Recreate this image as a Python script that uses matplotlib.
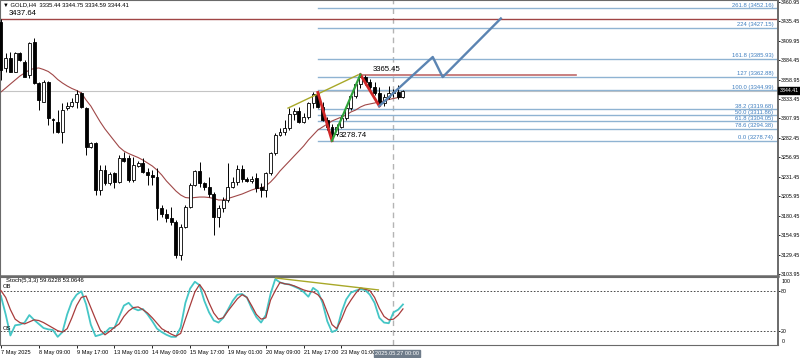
import numpy as np
import matplotlib
matplotlib.use('Agg')
import matplotlib.pyplot as plt
import matplotlib.transforms as mtransforms

plt.rcParams['font.family'] = ['Liberation Sans', 'DejaVu Sans']

# GOLD H4 candles (bar 0 = 7 May 2025 01:00)
opens = [3434.0, 3373.7, 3386.8, 3369.2, 3393.3, 3382.3, 3364.9, 3408.5, 3354.0, 3329.9,
         3356.1, 3307.2, 3303.7, 3290.5, 3321.2, 3324.6, 3329.9, 3340.9, 3322.0, 3270.9,
         3275.3, 3214.1, 3240.3, 3222.9, 3236.0, 3225.0, 3256.5, 3255.7, 3227.2, 3246.0,
         3249.1, 3238.1, 3233.8, 3231.5, 3190.5, 3182.7, 3177.4, 3171.8, 3128.9, 3166.0,
         3191.4, 3220.7, 3239.0, 3222.9, 3218.4, 3208.9, 3179.1, 3190.1, 3201.0, 3218.0,
         3225.0, 3241.2, 3228.5, 3226.3, 3229.5, 3218.4, 3214.1, 3236.0, 3262.2, 3286.2,
         3290.8, 3295.0, 3314.0, 3318.0, 3303.7, 3309.8, 3328.2, 3340.0, 3322.9, 3305.9,
         3296.7, 3287.5, 3296.7, 3308.5, 3321.6, 3337.3, 3353.1, 3362.2, 3355.7, 3349.1,
         3341.3, 3328.2, 3336.0, 3341.3, 3342.6, 3335.44]
highs = [3437.64, 3393.3, 3395.4, 3395.4, 3395.0, 3384.5, 3408.5, 3413.0, 3356.1, 3358.3,
         3357.0, 3308.1, 3319.0, 3327.8, 3329.9, 3334.3, 3345.2, 3343.0, 3323.3, 3277.4,
         3277.4, 3246.9, 3246.9, 3238.1, 3238.1, 3260.0, 3264.3, 3260.0, 3257.8, 3252.1,
         3255.7, 3242.6, 3240.3, 3242.6, 3194.4, 3189.2, 3191.8, 3174.8, 3169.5, 3194.4,
         3222.9, 3240.3, 3251.2, 3225.0, 3230.8, 3211.9, 3194.4, 3204.5, 3249.1, 3231.5,
         3246.9, 3246.9, 3231.5, 3232.0, 3236.0, 3222.9, 3238.1, 3264.3, 3288.4, 3295.0,
         3305.9, 3321.2, 3321.2, 3323.3, 3315.0, 3329.9, 3342.6, 3342.0, 3329.0, 3309.8,
         3300.6, 3300.6, 3312.4, 3324.2, 3340.0, 3355.7, 3365.45, 3364.5, 3359.6, 3355.7,
         3349.1, 3340.0, 3350.4, 3346.5, 3351.8, 3344.75]
lows = [3358.0, 3369.2, 3368.4, 3368.4, 3383.2, 3362.0, 3360.5, 3353.5, 3319.0, 3329.5,
        3299.3, 3288.4, 3288.4, 3275.3, 3319.0, 3323.3, 3322.0, 3321.2, 3260.0, 3268.8,
        3207.6, 3207.6, 3220.7, 3220.7, 3216.3, 3222.9, 3251.2, 3225.0, 3225.0, 3244.6,
        3236.0, 3220.7, 3220.7, 3174.8, 3179.1, 3172.2, 3168.2, 3124.6, 3122.3, 3163.9,
        3190.1, 3219.4, 3218.4, 3214.1, 3205.3, 3155.1, 3166.0, 3185.6, 3199.0, 3216.3,
        3220.7, 3225.0, 3225.0, 3223.0, 3211.9, 3204.5, 3205.3, 3233.8, 3260.0, 3284.9,
        3286.2, 3292.8, 3305.9, 3301.5, 3302.0, 3307.2, 3321.6, 3321.6, 3304.6, 3292.8,
        3278.74, 3284.9, 3295.4, 3305.9, 3319.0, 3334.7, 3347.8, 3351.8, 3345.2, 3338.6,
        3324.2, 3324.2, 3333.4, 3336.0, 3333.4, 3334.59]
closes = [3372.0, 3386.8, 3369.2, 3393.3, 3384.5, 3362.6, 3406.4, 3354.0, 3332.1, 3356.1,
          3308.1, 3305.9, 3290.5, 3319.0, 3324.6, 3329.9, 3339.6, 3323.3, 3270.9, 3275.3,
          3214.1, 3240.3, 3222.9, 3234.7, 3225.0, 3255.7, 3252.1, 3227.2, 3246.9, 3249.1,
          3238.1, 3233.8, 3231.5, 3190.5, 3182.7, 3177.4, 3171.8, 3128.9, 3166.0, 3191.4,
          3220.7, 3239.0, 3222.9, 3218.4, 3208.9, 3179.1, 3190.1, 3201.0, 3218.0, 3225.0,
          3241.2, 3228.5, 3226.3, 3228.5, 3216.3, 3214.1, 3236.0, 3262.2, 3286.2, 3290.8,
          3295.0, 3314.0, 3318.0, 3303.7, 3309.8, 3328.2, 3340.0, 3322.9, 3305.9, 3296.7,
          3287.5, 3296.7, 3308.5, 3321.6, 3337.3, 3353.1, 3362.2, 3355.7, 3349.1, 3341.3,
          3328.2, 3336.0, 3341.3, 3342.6, 3335.4, 3344.41]

# moving average as drawn on the chart
ma = [3342.6, 3347.8, 3353.1, 3358.3, 3363.5, 3367.5, 3371.4, 3373.4, 3374.1, 3372.1,
      3369.5, 3364.9, 3359.0, 3354.4, 3350.5, 3347.2, 3344.6, 3341.3, 3332.1, 3324.2,
      3313.7, 3303.3, 3294.1, 3286.2, 3278.3, 3270.5, 3265.2, 3261.9, 3259.3, 3256.7,
      3253.4, 3249.5, 3245.6, 3240.3, 3233.8, 3225.9, 3219.4, 3212.8, 3207.6, 3204.3,
      3203.6, 3204.3, 3204.9, 3204.9, 3204.3, 3203.0, 3201.0, 3201.0, 3203.0, 3204.9,
      3206.9, 3208.9, 3211.5, 3214.1, 3216.1, 3216.7, 3219.4, 3224.6, 3231.2, 3239.0,
      3245.6, 3252.1, 3258.7, 3265.2, 3271.8, 3279.6, 3286.2, 3292.8, 3296.7, 3300.6,
      3304.6, 3307.2, 3309.8, 3312.4, 3316.4, 3319.0, 3322.9, 3325.6, 3326.9, 3328.2,
      3329.5, 3330.8, 3332.8, 3334.1, 3335.4, 3336.0]

# Stochastic(5,3,3)
stoch_k = [72, 45, 14, 29, 30, 33, 44, 37, 31, 25, 23, 22, 12, 19, 45, 64, 74, 79, 60, 30,
           13, 15, 18, 25, 25, 42, 58, 62, 54, 51, 53, 45, 35, 24, 19, 15, 12, 12, 26, 62,
           83, 93, 88, 65, 48, 36, 33, 40, 52, 65, 74, 75, 70, 54, 41, 33, 44, 75, 97, 92,
           90, 89, 86, 83, 78, 71, 84, 79, 62, 35, 19, 22, 48, 67, 77, 80, 82, 81, 74, 62,
           40, 33, 32, 48, 52, 59.62]
stoch_d = [80, 70, 52, 38, 33, 31, 34, 37, 36, 33, 29, 25, 21, 19, 24, 40, 58, 70, 72, 55,
           38, 22, 15, 20, 26, 31, 42, 50, 55, 56, 52, 47, 40, 32, 24, 20, 16, 13, 17, 38,
           58, 78, 89, 79, 62, 47, 38, 40, 50, 59, 68, 74, 70, 58, 45, 38, 40, 66, 80, 92,
           90, 89, 87, 84, 81, 79, 78, 74, 66, 48, 30, 24, 38, 55, 66, 76, 84, 82, 80, 70,
           54, 42, 37, 38, 44, 53.06]

tick_pos = [0, 8, 16, 24, 32, 40, 48, 56, 64, 72]
tick_labels = ['7 May 2025', '8 May 09:00', '9 May 17:00', '13 May 01:00', '14 May 09:00',
               '15 May 17:00', '19 May 01:00', '20 May 09:00', '21 May 17:00', '23 May 01:00']
price_ticks = [3103.95, 3129.45, 3154.95, 3180.45, 3205.95, 3231.45, 3256.95, 3282.45,
               3307.95, 3333.45, 3358.95, 3384.45, 3409.95, 3435.45, 3460.95]

fib_levels = ['261.8', '224', '161.8', '127', '100.0', '38.2', '50.0', '61.8', '78.6', '0.0']
fib_prices = [3452.16, 3427.15, 3385.93, 3362.88, 3344.99, 3319.68, 3311.86, 3304.05, 3294.38, 3278.74]

swing_high = 3365.45
swing_low = 3278.74
top_line = 3437.64
last_price = 3344.41

# drawn objects (bar index, price)
red_leg1 = ([67, 70], [3342.0, 3278.74])
green_leg = ([70, 76], [3278.74, 3365.45])
red_leg2 = ([76, 80], [3365.45, 3324.2])
olive_line = ([60.7, 75.5], [3321.5, 3365.0])
blue_path = ([80, 91.3, 93.4, 105.7], [3324.2, 3388.5, 3362.2, 3439.0])
stoch_div = ([58.1, 79.8], [98.5, 81.0])

opens, highs, lows, closes = map(np.array, (opens, highs, lows, closes))
x = np.arange(len(opens))
xmax = 164.3

fig = plt.figure(figsize=(8, 3.58), dpi=100)
ax = fig.add_axes([0, 1 - 276 / 358, 778 / 800, 276 / 358])
ax2 = fig.add_axes([0, 1 - 345 / 358, 778 / 800, 68 / 358])

for a in (ax, ax2):
    a.set_xlim(-0.2, xmax)
    for s in a.spines.values():
        s.set_color('#6a6a6a')
        s.set_linewidth(0.8)
ax.spines['bottom'].set_linewidth(1.8)
ax.spines['right'].set_linewidth(1.4)
ax2.spines['right'].set_linewidth(1.4)

# ---- main price panel ----
ax.set_ylim(3101.4, 3463.2)
ax.axhline(top_line, color='#a04545', lw=1.0, zorder=1)
ax.axhline(last_price, color='#c4c4c4', lw=0.8, zorder=1)

for lvl, p in zip(fib_levels, fib_prices):
    ax.plot([67, xmax], [p, p], color='#8fb3d2', lw=1.0, zorder=1)
    ax.text(163.3, p + 0.6, f'{lvl} ({p:.2f})', color='#3f7fc0', fontsize=4.2,
            ha='right', va='bottom')

ax.plot([76, 121.6], [swing_high, swing_high], color='#c06a6a', lw=1.2, zorder=1)

ax.plot(x, ma, color='#a04848', lw=0.8, zorder=2)
ax.vlines(x, lows, highs, color='black', lw=0.7, zorder=3)
bull = closes >= opens
ax.bar(x[bull], closes[bull] - opens[bull], bottom=opens[bull], width=0.62,
       color='white', edgecolor='black', linewidth=0.6, zorder=4)
ax.bar(x[~bull], opens[~bull] - closes[~bull], bottom=closes[~bull], width=0.62,
       color='black', edgecolor='black', linewidth=0.6, zorder=4)

ax.plot(*olive_line, color='#a8a828', lw=1.0, zorder=5)
ax.plot(*red_leg1, color='#d02828', lw=2.0, zorder=5)
ax.plot(*red_leg2, color='#d02828', lw=2.0, zorder=5)
ax.plot(*green_leg, color='#2fa23a', lw=1.6, zorder=5)
ax.plot(*blue_path, color='#5b84b2', lw=1.7, zorder=5)

ax.text(1.6, top_line + 3, f'{top_line:.2f}', fontsize=5.6, va='bottom')
ax.text(78.5, swing_high + 2, f'{swing_high:.2f}', fontsize=5.6, va='bottom')
ax.text(71.5, swing_low + 2, f'{swing_low:.2f}', fontsize=5.6, va='bottom')
ax.text(0.5, 3456.5, '\u25bc GOLD,H4  3335.44 3344.75 3334.59 3344.41', fontsize=4.2, va='center')

ax.set_xticks([])
ax.yaxis.tick_right()
ax.set_yticks(price_ticks)
ax.set_yticklabels([f'{t:.2f}' for t in price_ticks])
ax.tick_params(axis='y', labelsize=3.8, length=1.5, width=0.6, pad=0.8, colors='black')
ax.text(1.002, last_price, f'{last_price:.2f}', transform=ax.get_yaxis_transform(),
        fontsize=3.8, color='white', va='center', ha='left',
        bbox=dict(boxstyle='square,pad=0.25', fc='black', ec='black'))

ax.axvline(83, color='#b4b4b4', lw=1.0, ls=(0, (4, 3)), zorder=0)

# ---- stochastic panel ----
ax2.set_ylim(0, 100)
ax2.axhline(80, color='#303030', lw=0.6, ls=(0, (2, 2)))
ax2.axhline(20, color='#303030', lw=0.6, ls=(0, (2, 2)))
ax2.plot(x, stoch_d, color='#a83c3c', lw=0.9, zorder=3)
ax2.plot(x, stoch_k, color='#45c6c6', lw=1.3, zorder=2)
ax2.plot(*stoch_div, color='#a8a828', lw=1.0, zorder=4)
ax2.axvline(83, color='#b4b4b4', lw=1.0, ls=(0, (4, 3)), zorder=0)

ax2.text(1.0, 95, 'Stoch(5,3,3) 59.6228 53.0646', fontsize=4.2, va='center')
ax2.text(0.3, 86, 'OB', fontsize=4.2, va='center')
ax2.text(0.3, 25, 'OS', fontsize=4.2, va='center')

ax2.yaxis.tick_right()
ax2.set_yticks([80, 20])
ax2.set_yticklabels(['80', '20'])
ax2.tick_params(axis='y', labelsize=3.8, length=1.5, width=0.6, pad=0.8)
ax2.text(1.005, 94, '100', transform=ax2.get_yaxis_transform(), fontsize=3.8, va='center')
ax2.text(1.005, 5, '0', transform=ax2.get_yaxis_transform(), fontsize=3.8, va='center')

ax2.set_xticks(tick_pos)
ax2.set_xticklabels(tick_labels, ha='left')
ax2.tick_params(axis='x', labelsize=4.1, length=2, width=0.6, pad=1.5)
ax2.text(79.1, -0.12, '2025.05.27 00:00',
         transform=mtransforms.blended_transform_factory(ax2.transData, ax2.transAxes),
         fontsize=4.1, color='white', va='center', ha='left', zorder=10,
         bbox=dict(boxstyle='square,pad=0.2', fc='#6f7c8a', ec='#6f7c8a'))

fig.savefig('out.png', dpi=100)
